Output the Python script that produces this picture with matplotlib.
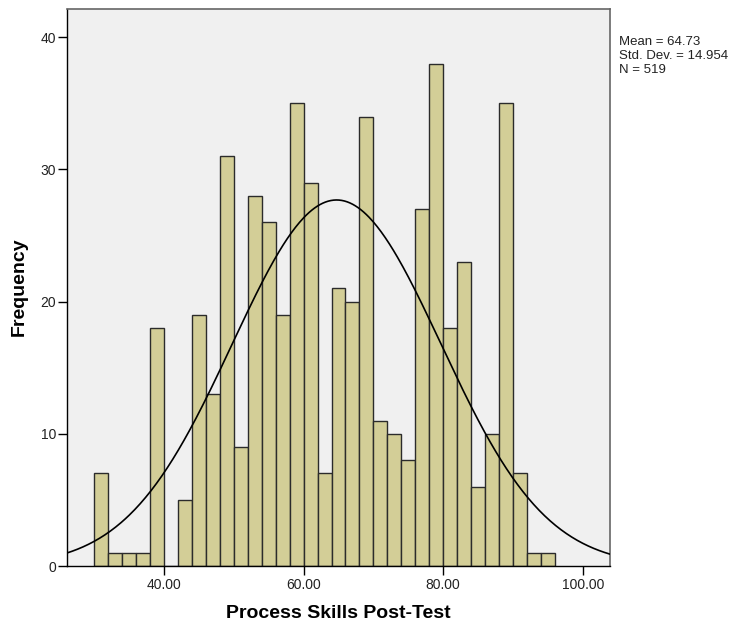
import matplotlib
matplotlib.use("Agg")
import matplotlib.pyplot as plt
import numpy as np

plt.rcParams['font.family'] = ['Liberation Sans', 'DejaVu Sans']

# histogram bins (width 2) and counts
bin_edges = [30, 32, 34, 36, 38, 40, 42, 44, 46, 48, 50, 52, 54, 56, 58, 60,
             62, 64, 66, 68, 70, 72, 74, 76, 78, 80, 82, 84, 86, 88, 90, 92, 94, 96]
counts = [7, 1, 1, 1, 18, 0, 5, 19, 13, 31, 9, 28, 26, 19, 35, 29,
          7, 21, 20, 34, 11, 10, 8, 27, 38, 18, 23, 6, 10, 35, 7, 1, 1]

mean = 64.73
std = 14.954
n = 519

x_ticks = [40, 60, 80, 100]
x_tick_labels = ["40.00", "60.00", "80.00", "100.00"]
y_ticks = [0, 10, 20, 30, 40]

fig = plt.figure(figsize=(7.39, 6.26), dpi=100)
W, H = 739, 626
left, right, top, bottom = 66.7, 610, 9, 566
ax = fig.add_axes([left / W, 1 - bottom / H, (right - left) / W, (bottom - top) / H])
ax.set_facecolor('#F0F0F0')

edges = np.array(bin_edges, dtype=float)
ax.bar(edges[:-1], counts, width=np.diff(edges), align='edge',
       color='#D3CE97', edgecolor='#2b2b2b', linewidth=1.0, zorder=2)

# normal curve scaled to counts
xs = np.linspace(26.06, 103.9, 400)
binw = edges[1] - edges[0]
ys = n * binw / (std * np.sqrt(2 * np.pi)) * np.exp(-0.5 * ((xs - mean) / std) ** 2)
ax.plot(xs, ys, color='black', linewidth=1.2, zorder=3)

ax.set_xlim(26.06, 103.9)
ax.set_ylim(0, 42.14)
ax.set_xticks(x_ticks)
ax.set_xticklabels(x_tick_labels)
ax.set_yticks(y_ticks)
ax.tick_params(axis='both', direction='out', length=6.5, width=1.0,
               labelsize=10, colors='black', labelcolor='#222222')
ax.tick_params(axis='x', pad=2)
ax.tick_params(axis='y', pad=1)

for s in ['left', 'bottom']:
    ax.spines[s].set_color('black')
    ax.spines[s].set_linewidth(1.0)
for s in ['top', 'right']:
    ax.spines[s].set_color('#666666')
    ax.spines[s].set_linewidth(1.2)

fig.text(338.5 / W, 1 - 613 / H, "Process Skills Post-Test", fontsize=14,
         fontweight='bold', ha='center', va='center')
fig.text(19.5 / W, 1 - 286.5 / H, "Frequency", fontsize=14, fontweight='bold',
         rotation=90, ha='center', va='center')

stats = ["Mean = %.2f" % mean, "Std. Dev. = %.3f" % std, "N = %d" % n]
for i, line in enumerate(stats):
    fig.text(619 / W, 1 - (42 + 14 * i) / H, line, fontsize=9.5,
             ha='left', va='center', color='#222222')

fig.savefig("out.png", dpi=100, facecolor='white')
